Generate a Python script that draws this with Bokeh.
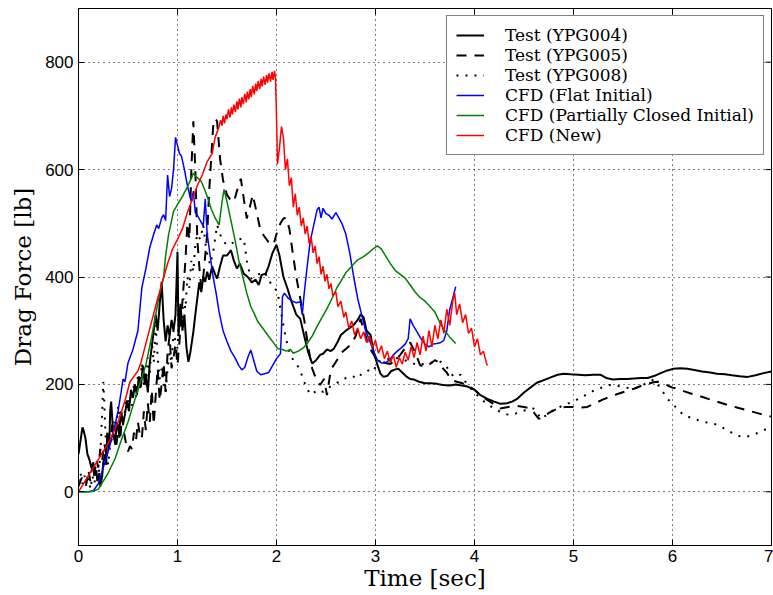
import math
from bokeh.plotting import figure
from bokeh.models import FixedTicker, Range1d, Legend, LegendItem
from bokeh.embed import file_html
from bokeh.resources import INLINE

x_ticks = [0, 1, 2, 3, 4, 5, 6, 7]
y_ticks = [0, 200, 400, 600, 800]
x_limits = (0, 7)
y_limits = (-100, 900)

# Test (YPG004) - time [s], drag force [lb]
ypg004 = [(0.00, 70), (0.02, 95), (0.04, 120), (0.05, 115), (0.07, 100), (0.09, 70), (0.11, 60), (0.13, 45),
          (0.15, 55), (0.16, 30), (0.18, 40), (0.19, 20), (0.21, 35), (0.22, 10), (0.24, 30), (0.25, 55),
          (0.27, 70), (0.28, 50), (0.29, 110), (0.31, 80), (0.32, 150), (0.33, 168), (0.35, 110), (0.37, 95),
          (0.39, 130), (0.41, 110), (0.43, 150), (0.45, 125), (0.47, 145), (0.49, 170), (0.51, 150), (0.53, 190),
          (0.55, 175), (0.57, 200), (0.59, 180), (0.61, 215), (0.63, 195), (0.65, 235), (0.67, 200), (0.68, 220),
          (0.70, 185), (0.72, 240), (0.74, 270), (0.76, 300), (0.78, 330), (0.80, 300), (0.82, 350), (0.84, 391),
          (0.86, 320), (0.88, 280), (0.90, 310), (0.92, 290), (0.94, 320), (0.96, 300), (0.98, 330), (1.00, 447),
          (1.01, 290), (1.03, 350), (1.05, 300), (1.07, 330), (1.09, 270), (1.11, 242), (1.13, 260), (1.16, 298),
          (1.18, 330), (1.20, 360), (1.22, 390), (1.24, 372), (1.26, 400), (1.28, 391), (1.30, 410), (1.32, 395),
          (1.35, 420), (1.38, 405), (1.40, 397), (1.43, 420), (1.46, 440), (1.50, 440), (1.54, 450), (1.57, 430),
          (1.60, 416), (1.63, 425), (1.67, 406), (1.71, 400), (1.75, 390), (1.79, 395), (1.82, 385), (1.85, 404),
          (1.89, 406), (1.92, 420), (1.96, 445), (2.00, 460), (2.03, 440), (2.07, 400), (2.11, 379), (2.15, 355),
          (2.20, 330), (2.24, 322), (2.28, 290), (2.32, 260), (2.36, 239), (2.40, 245), (2.44, 255), (2.47, 257),
          (2.51, 265), (2.55, 262), (2.58, 267), (2.62, 280), (2.65, 292), (2.70, 300), (2.74, 305), (2.78, 311),
          (2.82, 320), (2.85, 330), (2.88, 325), (2.91, 300), (2.95, 292), (2.98, 261), (3.02, 236), (3.05, 220),
          (3.08, 214), (3.12, 216), (3.16, 225), (3.20, 228), (3.23, 229), (3.27, 222), (3.31, 215), (3.35, 210),
          (3.39, 209), (3.44, 205), (3.50, 202), (3.56, 202), (3.62, 201), (3.68, 199), (3.75, 198), (3.81, 200),
          (3.87, 198), (3.93, 196), (4.00, 190), (4.06, 180), (4.13, 173), (4.20, 168), (4.26, 164), (4.33, 165),
          (4.38, 168), (4.43, 173), (4.50, 185), (4.57, 195), (4.63, 203), (4.70, 208), (4.77, 213), (4.84, 218),
          (4.90, 220), (4.97, 219), (5.05, 218), (5.12, 217), (5.20, 218), (5.27, 218), (5.33, 212), (5.40, 209),
          (5.47, 210), (5.54, 210), (5.61, 211), (5.68, 212), (5.75, 212), (5.82, 216), (5.88, 221), (5.95, 226),
          (6.01, 229), (6.08, 230), (6.15, 229), (6.22, 227), (6.30, 224), (6.38, 222), (6.45, 220), (6.53, 219),
          (6.60, 217), (6.68, 215), (6.76, 214), (6.84, 217), (6.92, 221), (7.00, 224)]

# Test (YPG005)
ypg005 = [(0.00, 10), (0.03, 25), (0.06, 30), (0.08, 15), (0.10, 40), (0.12, 20), (0.14, 50), (0.16, 30),
          (0.18, 60), (0.20, 45), (0.22, 80), (0.24, 60), (0.26, 90), (0.28, 70), (0.30, 110), (0.32, 90),
          (0.34, 125), (0.36, 100), (0.38, 80), (0.40, 120), (0.42, 95), (0.44, 140), (0.46, 110), (0.48, 90),
          (0.50, 75), (0.52, 85), (0.54, 80), (0.56, 110), (0.58, 95), (0.60, 130), (0.62, 105), (0.64, 99),
          (0.66, 150), (0.68, 115), (0.70, 165), (0.72, 130), (0.74, 190), (0.76, 125), (0.78, 180), (0.80, 230),
          (0.82, 170), (0.84, 200), (0.86, 240), (0.88, 186), (0.90, 260), (0.92, 290), (0.94, 230), (0.96, 250),
          (0.98, 275), (1.00, 236), (1.02, 280), (1.04, 330), (1.06, 380), (1.08, 430), (1.10, 500), (1.12, 470),
          (1.14, 600), (1.16, 690), (1.18, 600), (1.20, 470), (1.22, 420), (1.24, 380), (1.26, 400), (1.28, 440),
          (1.30, 480), (1.32, 560), (1.34, 620), (1.36, 680), (1.38, 695), (1.40, 690), (1.43, 620), (1.46, 580),
          (1.50, 553), (1.53, 545), (1.57, 540), (1.60, 560), (1.64, 583), (1.67, 545), (1.70, 509), (1.73, 530),
          (1.76, 553), (1.80, 520), (1.84, 485), (1.88, 475), (1.92, 465), (1.97, 460), (2.00, 480), (2.04, 500),
          (2.07, 509), (2.10, 510), (2.13, 490), (2.16, 450), (2.20, 400), (2.24, 360), (2.28, 320), (2.32, 270),
          (2.36, 230), (2.40, 210), (2.44, 199), (2.48, 210), (2.51, 180), (2.55, 229), (2.58, 236), (2.61, 245),
          (2.65, 258), (2.70, 266), (2.75, 274), (2.80, 290), (2.85, 322), (2.88, 300), (2.92, 280), (2.96, 262),
          (3.00, 250), (3.05, 245), (3.10, 240), (3.15, 238), (3.20, 245), (3.25, 255), (3.30, 268), (3.35, 278),
          (3.40, 260), (3.45, 236), (3.50, 232), (3.55, 238), (3.60, 245), (3.63, 242), (3.68, 230), (3.72, 222),
          (3.76, 209), (3.82, 205), (3.88, 202), (3.93, 199), (4.00, 190), (4.06, 180), (4.12, 172), (4.18, 165),
          (4.26, 155), (4.34, 158), (4.42, 160), (4.50, 158), (4.57, 155), (4.61, 145), (4.65, 136), (4.70, 140),
          (4.76, 148), (4.84, 155), (4.92, 158), (5.00, 158), (5.07, 157), (5.14, 158), (5.22, 165), (5.30, 172),
          (5.38, 178), (5.46, 183), (5.54, 188), (5.61, 192), (5.68, 197), (5.75, 201), (5.81, 204), (5.85, 205),
          (5.90, 203), (5.95, 198), (6.00, 194), (6.05, 192), (6.12, 187), (6.20, 182), (6.28, 178), (6.36, 173),
          (6.45, 168), (6.55, 162), (6.65, 157), (6.75, 152), (6.85, 147), (6.93, 143), (7.00, 140)]

# Test (YPG008)
ypg008 = [(0.00, 20), (0.02, 35), (0.04, 15), (0.06, 30), (0.08, 10), (0.10, 25), (0.12, 5), (0.14, 30),
          (0.16, 15), (0.18, 40), (0.20, 25), (0.22, 70), (0.24, 150), (0.25, 205), (0.26, 170), (0.27, 120),
          (0.28, 80), (0.30, 50), (0.32, 90), (0.34, 100), (0.36, 130), (0.38, 110), (0.40, 160), (0.42, 130),
          (0.44, 150), (0.46, 135), (0.48, 170), (0.50, 155), (0.52, 180), (0.54, 160), (0.56, 200), (0.58, 175),
          (0.60, 215), (0.62, 190), (0.64, 240), (0.66, 200), (0.68, 193), (0.70, 250), (0.72, 220), (0.74, 280),
          (0.76, 240), (0.78, 310), (0.80, 250), (0.82, 210), (0.84, 230), (0.86, 200), (0.88, 186), (0.90, 230),
          (0.92, 260), (0.94, 240), (0.96, 300), (0.98, 280), (1.00, 267), (1.02, 330), (1.04, 310), (1.06, 360),
          (1.08, 340), (1.10, 400), (1.12, 380), (1.14, 430), (1.16, 410), (1.18, 460), (1.20, 480), (1.23, 470),
          (1.26, 497), (1.29, 450), (1.33, 423), (1.36, 445), (1.40, 497), (1.44, 475), (1.47, 465), (1.50, 460),
          (1.54, 460), (1.58, 468), (1.62, 470), (1.67, 472), (1.70, 430), (1.74, 397), (1.78, 400), (1.82, 405),
          (1.87, 410), (1.91, 400), (1.95, 385), (2.01, 373), (2.05, 330), (2.09, 290), (2.13, 260), (2.17, 245),
          (2.21, 236), (2.25, 220), (2.29, 200), (2.34, 181), (2.38, 185), (2.43, 190), (2.47, 186), (2.51, 192),
          (2.56, 198), (2.61, 203), (2.65, 205), (2.70, 212), (2.76, 216), (2.82, 211), (2.87, 222), (2.93, 226),
          (2.98, 224), (3.02, 242), (3.07, 245), (3.12, 247), (3.18, 250), (3.25, 248), (3.31, 244), (3.37, 240),
          (3.42, 236), (3.48, 238), (3.54, 240), (3.60, 241), (3.66, 242), (3.72, 232), (3.79, 214), (3.86, 218),
          (3.93, 199), (4.00, 185), (4.07, 172), (4.14, 162), (4.20, 155), (4.26, 149), (4.31, 145), (4.36, 143),
          (4.42, 146), (4.48, 150), (4.54, 153), (4.60, 155), (4.64, 145), (4.67, 136), (4.72, 142), (4.78, 150),
          (4.85, 157), (4.92, 163), (5.00, 168), (5.07, 175), (5.14, 182), (5.22, 190), (5.30, 195), (5.37, 199),
          (5.45, 197), (5.53, 194), (5.61, 192), (5.68, 196), (5.74, 203), (5.81, 209), (5.85, 200), (5.90, 187),
          (5.95, 173), (6.02, 160), (6.11, 143), (6.20, 137), (6.28, 132), (6.37, 128), (6.45, 125), (6.52, 118),
          (6.58, 112), (6.62, 108), (6.67, 104), (6.72, 102), (6.78, 104), (6.84, 108), (6.90, 113), (6.95, 117),
          (7.00, 121)]

# CFD (Flat Initial)
cfd_flat = [(0.00, 0), (0.10, 0), (0.15, 2), (0.20, 15), (0.25, 45), (0.30, 75), (0.35, 110), (0.40, 150),
            (0.43, 185), (0.45, 210), (0.47, 205), (0.50, 240), (0.55, 265), (0.60, 300), (0.64, 380), (0.68, 415),
            (0.72, 455), (0.76, 480), (0.79, 497), (0.81, 490), (0.84, 510), (0.86, 516), (0.88, 505), (0.90, 590),
            (0.92, 550), (0.94, 565), (0.96, 600), (0.98, 660), (1.00, 645), (1.02, 630), (1.04, 625), (1.07, 600),
            (1.10, 570), (1.12, 555), (1.14, 540), (1.16, 560), (1.18, 520), (1.20, 515), (1.23, 505), (1.26, 495),
            (1.28, 545), (1.30, 480), (1.33, 440), (1.36, 400), (1.39, 370), (1.42, 335), (1.46, 300), (1.50, 280),
            (1.54, 262), (1.58, 250), (1.62, 235), (1.65, 227), (1.68, 232), (1.71, 250), (1.74, 264), (1.77, 245),
            (1.80, 225), (1.84, 218), (1.88, 220), (1.92, 222), (1.96, 235), (2.00, 248), (2.04, 257), (2.05, 300),
            (2.06, 363), (2.08, 370), (2.12, 360), (2.16, 355), (2.20, 352), (2.24, 354), (2.26, 330), (2.28, 370),
            (2.31, 420), (2.34, 466), (2.38, 500), (2.41, 525), (2.43, 530), (2.45, 510), (2.47, 528), (2.50, 518),
            (2.53, 515), (2.56, 508), (2.60, 520), (2.63, 510), (2.66, 500), (2.70, 480), (2.74, 445), (2.78, 400),
            (2.82, 360), (2.86, 330), (2.90, 300), (2.94, 282), (2.98, 262), (3.02, 245), (3.06, 240), (3.10, 240),
            (3.14, 245), (3.18, 255), (3.22, 262), (3.26, 268), (3.30, 275), (3.33, 285), (3.35, 322), (3.38, 310),
            (3.42, 298), (3.46, 285), (3.50, 275), (3.54, 270), (3.58, 275), (3.62, 276), (3.66, 278), (3.69, 282),
            (3.72, 300), (3.75, 340), (3.78, 360), (3.81, 382)]

# CFD (Partially Closed Initial)
cfd_partial = [(0.00, 0), (0.10, 0), (0.15, 1), (0.20, 5), (0.25, 20), (0.30, 35), (0.37, 62), (0.43, 95),
               (0.50, 130), (0.55, 160), (0.60, 190), (0.68, 236), (0.74, 290), (0.78, 330), (0.81, 360),
               (0.84, 385), (0.86, 400), (0.88, 440), (0.91, 479), (0.94, 505), (0.96, 522), (1.00, 535),
               (1.05, 550), (1.10, 568), (1.13, 580), (1.16, 593), (1.20, 585), (1.24, 578), (1.28, 560),
               (1.31, 545), (1.34, 527), (1.38, 510), (1.42, 497), (1.45, 540), (1.47, 563), (1.50, 540),
               (1.54, 505), (1.58, 470), (1.62, 430), (1.66, 400), (1.70, 370), (1.74, 345), (1.78, 330),
               (1.81, 317), (1.86, 305), (1.91, 292), (1.96, 280), (2.01, 267), (2.06, 265), (2.10, 262),
               (2.14, 265), (2.17, 258), (2.22, 262), (2.27, 268), (2.31, 276), (2.36, 290), (2.41, 308),
               (2.46, 325), (2.51, 341), (2.56, 360), (2.61, 380), (2.65, 392), (2.70, 408), (2.76, 420),
               (2.82, 432), (2.88, 438), (2.93, 445), (2.98, 453), (3.02, 458), (3.06, 452), (3.10, 440),
               (3.15, 425), (3.20, 412), (3.25, 405), (3.30, 398), (3.35, 385), (3.40, 372), (3.45, 362),
               (3.50, 355), (3.55, 345), (3.60, 335), (3.65, 315), (3.70, 300), (3.75, 288), (3.81, 276)]

# CFD (New)
cfd_new = [(0.00, 0), (0.10, 30), (0.20, 60), (0.30, 90), (0.40, 130), (0.47, 170), (0.52, 205), (0.56, 215),
           (0.60, 225), (0.63, 240), (0.70, 290), (0.80, 360), (0.90, 425), (0.95, 452), (1.00, 470), (1.05, 490),
           (1.10, 520), (1.15, 545), (1.20, 570), (1.25, 590), (1.30, 615), (1.35, 630), (1.38, 660), (1.42, 680),
           (1.435, 692), (1.45, 682), (1.46, 700), (1.475, 686), (1.49, 703), (1.50, 694), (1.515, 712),
           (1.53, 697), (1.545, 716), (1.555, 703), (1.57, 721), (1.585, 707), (1.60, 727), (1.61, 712),
           (1.625, 732), (1.64, 716), (1.65, 735), (1.665, 722), (1.68, 741), (1.695, 725), (1.705, 745),
           (1.72, 731), (1.735, 750), (1.745, 735), (1.76, 756), (1.775, 740), (1.79, 760), (1.80, 746),
           (1.815, 765), (1.83, 750), (1.845, 769), (1.855, 755), (1.87, 773), (1.885, 758), (1.90, 776),
           (1.91, 762), (1.925, 779), (1.94, 764), (1.955, 782), (1.965, 767), (1.98, 784), (1.99, 770),
           (2.00, 700), (2.01, 610), (2.03, 640), (2.05, 680),
           (2.07, 660), (2.09, 600), (2.11, 620), (2.13, 570), (2.15, 585), (2.17, 530), (2.19, 555), (2.21, 515),
           (2.23, 530), (2.25, 495), (2.27, 510), (2.29, 480), (2.31, 495), (2.33, 462), (2.35, 475), (2.37, 445),
           (2.39, 458), (2.41, 425), (2.43, 438), (2.45, 405), (2.47, 420), (2.49, 392), (2.51, 405), (2.53, 378),
           (2.55, 388), (2.57, 365), (2.60, 372), (2.62, 345), (2.65, 355), (2.68, 325), (2.70, 335), (2.73, 305),
           (2.76, 318), (2.79, 292), (2.82, 305), (2.85, 285), (2.88, 298), (2.91, 278), (2.94, 290), (2.97, 268),
           (3.00, 282), (3.03, 258), (3.06, 272), (3.09, 248), (3.12, 262), (3.15, 240), (3.18, 255), (3.21, 232),
           (3.24, 250), (3.27, 238), (3.30, 260), (3.33, 245), (3.36, 270), (3.39, 250), (3.42, 278), (3.45, 255),
           (3.48, 290), (3.51, 262), (3.54, 300), (3.57, 270), (3.60, 310), (3.63, 285), (3.66, 320), (3.69, 295),
           (3.72, 340), (3.75, 310), (3.78, 355), (3.80, 370), (3.82, 330), (3.85, 350), (3.88, 315), (3.91, 330),
           (3.94, 295), (3.97, 305), (4.00, 270), (4.03, 285), (4.06, 255), (4.09, 262), (4.12, 240), (4.13, 235)]

series = [
    ("Test (YPG004)", ypg004, "black", "solid", 2.0),
    ("Test (YPG005)", ypg005, "black", "10 8", 2.0),
    ("Test (YPG008)", ypg008, "black", "2 7", 2.0),
    ("CFD (Flat Initial)", cfd_flat, "#0000ff", "solid", 1.5),
    ("CFD (Partially Closed Initial)", cfd_partial, "#008000", "solid", 1.5),
    ("CFD (New)", cfd_new, "#ff0000", "solid", 1.5),
]

SERIF = "DejaVu Serif"
SANS = "Liberation Sans"

p = figure(width=773, height=595, x_range=Range1d(*x_limits), y_range=Range1d(*y_limits),
           output_backend="svg", toolbar_location=None,
           min_border_left=78, min_border_right=2, min_border_top=8, min_border_bottom=50)
p.background_fill_color = "white"
p.border_fill_color = "white"
p.outline_line_color = "black"
p.outline_line_width = 1

for ax, ticks in ((p.xaxis[0], x_ticks), (p.yaxis[0], y_ticks)):
    ax.ticker = FixedTicker(ticks=ticks)
    ax.major_tick_in = 6
    ax.major_tick_out = 0
    ax.minor_tick_in = 0
    ax.minor_tick_out = 0
    ax.axis_line_color = "black"
    ax.major_tick_line_color = "black"
    ax.major_label_text_font = SANS
    ax.major_label_text_font_size = "17px"
    ax.major_label_text_color = "black"
    ax.axis_label_text_font = SERIF
    ax.axis_label_text_font_size = "23px"
    ax.axis_label_text_font_style = "normal"
    ax.axis_label_text_color = "black"

p.xaxis.axis_label = "Time [sec]"
p.yaxis.axis_label = "Drag Force [lb]"
p.xaxis.major_label_standoff = 4
p.xaxis.axis_label_standoff = 0
p.yaxis.major_label_standoff = 5
p.yaxis.axis_label_standoff = 6

for g in (p.xgrid[0], p.ygrid[0]):
    g.grid_line_color = "black"
    g.grid_line_dash = "1 4"
    g.grid_line_width = 1
p.xgrid.ticker = FixedTicker(ticks=x_ticks)
p.ygrid.ticker = FixedTicker(ticks=y_ticks)

# inward ticks on the top and right frame edges (half of each marker is clipped by the frame)
p.scatter(x=x_ticks, y=[y_limits[1]] * len(x_ticks), marker="dash", size=12, angle=math.pi / 2,
          line_color="black", line_width=1)
p.scatter(x=[x_limits[1]] * len(y_ticks), y=y_ticks, marker="dash", size=12,
          line_color="black", line_width=1)

items = []
for name, data, color, dash, lw in series:
    ts = [d[0] for d in data]
    fs = [d[1] for d in data]
    r = p.line(ts, fs, line_color=color, line_width=lw, line_dash=dash)
    items.append(LegendItem(label=name, renderers=[r]))

legend = Legend(items=items, location="top_right")
legend.label_text_font = SERIF
legend.label_text_font_size = "17px"
legend.label_text_color = "black"
legend.border_line_color = "black"
legend.border_line_width = 1
legend.background_fill_alpha = 1
legend.margin = 7
legend.padding = 9
legend.spacing = 0
legend.glyph_width = 28
legend.glyph_height = 20
legend.label_height = 20
legend.label_standoff = 21
p.add_layout(legend)

open("out.html", "w").write(file_html(p, INLINE))
